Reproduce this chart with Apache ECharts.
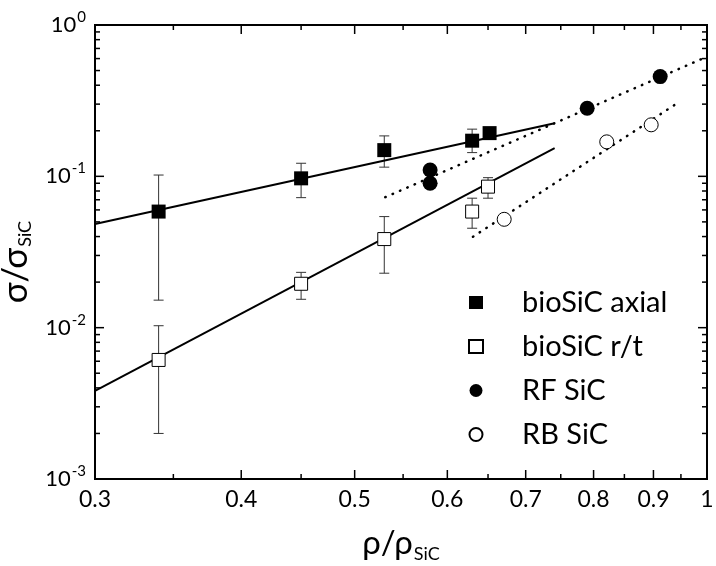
<!DOCTYPE html>
<html>
<head>
<meta charset="utf-8">
<script src="https://cdn.jsdelivr.net/npm/echarts@6/dist/echarts.min.js"></script>
<style>
html, body { margin: 0; padding: 0; background: #fff; }
#chart { width: 716px; height: 566px; }
</style>
</head>
<body>
<div id="chart"></div>
<script>
// values
const axialX = [0.34, 0.45, 0.53, 0.63, 0.652]
const axialY = [0.0585, 0.097, 0.149, 0.172, 0.193]
const axialLow = [0.0152, 0.0723, 0.115, 0.1435, null]
const axialHigh = [0.102, 0.122, 0.185, 0.205, null]

const rtX = [0.34, 0.45, 0.53, 0.63, 0.65]
const rtY = [0.00612, 0.0195, 0.0385, 0.0585, 0.0855]
const rtLow = [0.0020, 0.0154, 0.0229, 0.0454, 0.0717]
const rtHigh = [0.0103, 0.0232, 0.0542, 0.0717, 0.098]

const rfX = [0.58, 0.58, 0.79, 0.912]
const rfY = [0.110, 0.090, 0.282, 0.456]

const rbX = [0.671, 0.821, 0.896]
const rbY = [0.052, 0.169, 0.219]

// fit lines (end points)
const axialFitX = [0.3, 0.741]
const axialFitY = [0.0484, 0.2244]
const rtFitX = [0.3, 0.741]
const rtFitY = [0.00382, 0.1535]
const rfFitX = [0.531, 1]
const rfFitY = [0.0728, 0.618]
const rbFitX = [0.631, 0.943]
const rbFitY = [0.0399, 0.304]

// ticks
const xMajor = [0.3, 0.4, 0.5, 0.6, 0.7, 0.8, 0.9, 1]
const xMinor = [0.35, 0.45, 0.55, 0.65, 0.75, 0.85, 0.95]
const yMajor = [0.001, 0.01, 0.1, 1]
const yMinor = [0.002, 0.003, 0.004, 0.005, 0.006, 0.007, 0.008, 0.009,
    0.02, 0.03, 0.04, 0.05, 0.06, 0.07, 0.08, 0.09,
    0.2, 0.3, 0.4, 0.5, 0.6, 0.7, 0.8, 0.9]

const FONT = 'Lato'
const zip = (xs, ys) => xs.map((x, i) => [x, ys[i]])
const bars = (xs, lo, hi) => xs.map((x, i) => [x, lo[i], hi[i]]).filter(d => d[1] != null)

const errorBar = (params, api) => {
    const x = api.value(0)
    const lo = api.coord([x, api.value(1)])
    const hi = api.coord([x, api.value(2)])
    const w = 5
    const st = { stroke: '#333', lineWidth: 1 }
    return {
        type: 'group',
        children: [
            { type: 'line', shape: { x1: lo[0], y1: lo[1], x2: hi[0], y2: hi[1] }, style: st },
            { type: 'line', shape: { x1: lo[0] - w, y1: lo[1], x2: lo[0] + w, y2: lo[1] }, style: st },
            { type: 'line', shape: { x1: hi[0] - w, y1: hi[1], x2: hi[0] + w, y2: hi[1] }, style: st },
        ],
    }
}

const xTick = (params, api) => {
    const cs = params.coordSys
    const p = api.coord([api.value(0), api.value(1)])
    const major = api.value(2) === 1
    const len = major ? 9 : 5
    const st = { stroke: '#000', lineWidth: 1.5 }
    const bottom = cs.y + cs.height
    const children = [
        { type: 'line', shape: { x1: p[0], y1: bottom, x2: p[0], y2: bottom - len }, style: st },
        { type: 'line', shape: { x1: p[0], y1: cs.y, x2: p[0], y2: cs.y + len }, style: st },
    ]
    if (major) {
        const v = api.value(0)
        children.push({
            type: 'text',
            style: {
                text: v === 1 ? '1' : v.toFixed(1),
                x: p[0], y: bottom + 9,
                align: 'center', verticalAlign: 'top',
                font: '23px ' + FONT, fill: '#000',
            },
        })
    }
    return { type: 'group', children }
}

const yTick = (params, api) => {
    const cs = params.coordSys
    const p = api.coord([api.value(0), api.value(1)])
    const len = api.value(2) === 1 ? 9 : 5
    const st = { stroke: '#000', lineWidth: 1.5 }
    const right = cs.x + cs.width
    return {
        type: 'group',
        children: [
            { type: 'line', shape: { x1: cs.x, y1: p[1], x2: cs.x + len, y2: p[1] }, style: st },
            { type: 'line', shape: { x1: right, y1: p[1], x2: right - len, y2: p[1] }, style: st },
        ],
    }
}

const myChart = echarts.init(document.getElementById('chart'))
const option = {
    backgroundColor: '#fff',
    animation: false,
    textStyle: { fontFamily: FONT, color: '#000' },
    grid: {
        left: 95, right: 9, top: 25, bottom: 87,
        show: true, borderColor: '#000', borderWidth: 2,
        outerBoundsMode: 'none',
    },
    legend: {
        orient: 'vertical',
        left: 463,
        top: 282,
        itemWidth: 14,
        itemHeight: 13,
        itemGap: 13,
        textStyle: { fontSize: 29, fontFamily: FONT, color: '#000', lineHeight: 31, padding: [0, 0, 0, 34] },
        data: ['bioSiC axial', 'bioSiC r/t', 'RF SiC', 'RB SiC'],
    },
    xAxis: {
        type: 'log',
        logBase: 10,
        min: 0.3,
        max: 1,
        axisLine: { show: false },
        axisTick: { show: false },
        axisLabel: { show: false },
        splitLine: { show: false },
        name: '{a|ρ/ρ}{b|SiC}',
        nameLocation: 'middle',
        nameGap: 44,
        nameTextStyle: {
            rich: {
                a: { fontSize: 33, fontFamily: FONT, color: '#000' },
                b: { fontSize: 18, fontFamily: FONT, color: '#000', padding: [22, 0, 0, 1] },
            },
        },
    },
    yAxis: {
        type: 'log',
        logBase: 10,
        min: 0.001,
        max: 1,
        axisLine: { show: false },
        axisTick: { show: false },
        splitLine: { show: false },
        axisLabel: {
            margin: 9,
            formatter: (v) => '{a|10}{s|' + Math.round(Math.log10(v)) + '}',
            rich: {
                a: { fontSize: 22, fontFamily: FONT, color: '#000' },
                s: { fontSize: 15, fontFamily: FONT, color: '#000', padding: [0, 0, 16, 1] },
            },
        },
        name: '{a|σ/σ}{b|SiC}',
        nameLocation: 'middle',
        nameRotate: 90,
        nameGap: 34,
        nameTextStyle: {
            padding: [0, 20, 0, 0],
            rich: {
                a: { fontSize: 35, fontFamily: FONT, color: '#000' },
                b: { fontSize: 18, fontFamily: FONT, color: '#000', padding: [20, 0, 0, 1] },
            },
        },
    },
    series: [
        {
            type: 'custom', silent: true, z: 1,
            renderItem: xTick,
            data: xMajor.map(v => [v, 0.001, 1]).concat(xMinor.map(v => [v, 0.001, 0])),
        },
        {
            type: 'custom', silent: true, z: 1,
            renderItem: yTick,
            data: yMajor.map(v => [0.3, v, 1]).concat(yMinor.map(v => [0.3, v, 0])),
        },
        {
            type: 'custom', silent: true, z: 2,
            renderItem: errorBar,
            data: bars(axialX, axialLow, axialHigh).concat(bars(rtX, rtLow, rtHigh)),
        },
        {
            type: 'line', silent: true, z: 3, showSymbol: false,
            lineStyle: { color: '#000', width: 2 },
            data: zip(axialFitX, axialFitY),
        },
        {
            type: 'line', silent: true, z: 3, showSymbol: false,
            lineStyle: { color: '#000', width: 2 },
            data: zip(rtFitX, rtFitY),
        },
        {
            type: 'line', silent: true, z: 3, showSymbol: false,
            lineStyle: { color: '#000', width: 2.5, type: [0.5, 7.5], cap: 'round' },
            data: zip(rfFitX, rfFitY),
        },
        {
            type: 'line', silent: true, z: 3, showSymbol: false,
            lineStyle: { color: '#000', width: 2.5, type: [0.5, 7.5], cap: 'round' },
            data: zip(rbFitX, rbFitY),
        },
        {
            name: 'bioSiC axial', type: 'scatter', z: 5,
            symbol: 'rect', symbolSize: 14,
            itemStyle: { color: '#000', opacity: 1 },
            data: zip(axialX, axialY),
        },
        {
            name: 'bioSiC r/t', type: 'scatter', z: 5,
            symbol: 'rect', symbolSize: 13,
            itemStyle: { color: '#fff', borderColor: '#000', borderWidth: 1, opacity: 1 },
            data: zip(rtX, rtY),
        },
        {
            name: 'RF SiC', type: 'scatter', z: 5,
            symbol: 'circle', symbolSize: 15,
            itemStyle: { color: '#000', opacity: 1 },
            data: zip(rfX, rfY),
        },
        {
            name: 'RB SiC', type: 'scatter', z: 5,
            symbol: 'circle', symbolSize: 14,
            itemStyle: { color: '#fff', borderColor: '#000', borderWidth: 1, opacity: 1 },
            data: zip(rbX, rbY),
        },
    ],
}
option && myChart.setOption(option)
</script>
</body>
</html>
